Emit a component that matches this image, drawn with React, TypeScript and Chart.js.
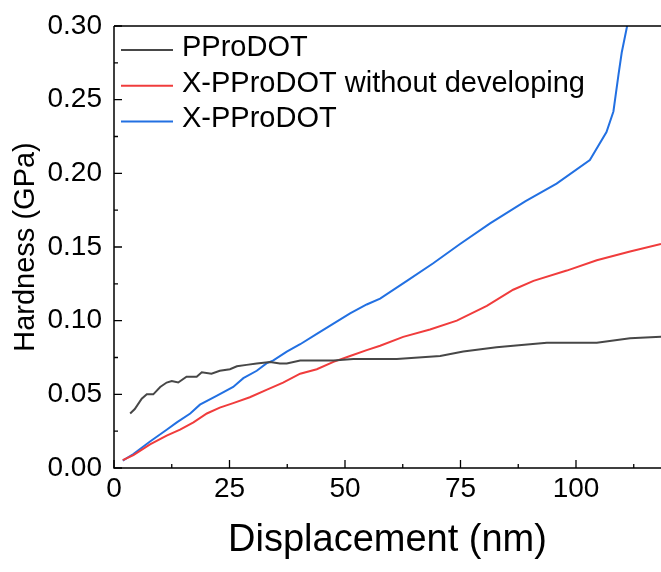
import React, { useEffect, useRef } from "react";
import { Chart, registerables } from "chart.js";

Chart.register(...registerables);

const seriesLabels = ["PProDOT", "X-PProDOT without developing", "X-PProDOT"];
const seriesColors = ["#474747", "#f03c3c", "#2270e2"];

const grayX = [3.5, 4.5, 6.0, 7.1, 8.5, 10.0, 11.4, 12.5, 13.9, 15.7, 17.9, 19.0, 21.1, 22.9, 25.1, 26.6, 28.7, 30.9, 33.8, 35.9, 37.4, 40.3, 43.9, 47.5, 51.8, 57.6, 61.2, 70.6, 75.6, 82.8, 86.4, 93.7, 100.9, 104.5, 111.7, 118.4];
const grayY = [0.037, 0.040, 0.047, 0.050, 0.050, 0.055, 0.058, 0.059, 0.058, 0.062, 0.062, 0.065, 0.064, 0.066, 0.067, 0.069, 0.070, 0.071, 0.072, 0.071, 0.071, 0.073, 0.073, 0.073, 0.074, 0.074, 0.074, 0.076, 0.079, 0.082, 0.083, 0.085, 0.085, 0.085, 0.088, 0.089];

const redX = [1.9, 4.2, 7.8, 11.4, 14.3, 17.2, 20.1, 22.9, 25.8, 29.4, 33.0, 36.6, 40.3, 43.9, 47.5, 51.1, 54.7, 57.6, 62.6, 68.4, 74.2, 80.7, 86.4, 90.8, 98.0, 104.5, 111.7, 118.4];
const redY = [0.0054, 0.0088, 0.016, 0.022, 0.026, 0.031, 0.037, 0.041, 0.044, 0.048, 0.053, 0.058, 0.064, 0.067, 0.072, 0.076, 0.080, 0.083, 0.089, 0.094, 0.100, 0.110, 0.121, 0.127, 0.134, 0.141, 0.147, 0.152];

const blueX = [1.9, 4.2, 7.8, 11.4, 13.6, 16.5, 18.6, 22.2, 25.8, 28.0, 30.9, 33.0, 34.5, 37.4, 40.3, 43.9, 47.5, 51.1, 54.7, 57.6, 63.4, 69.1, 74.9, 81.4, 89.0, 95.8, 103.0, 106.6, 108.1, 109.2, 109.9, 111.0, 111.4];
const blueY = [0.005, 0.0095, 0.018, 0.026, 0.031, 0.037, 0.043, 0.049, 0.055, 0.061, 0.066, 0.071, 0.073, 0.079, 0.084, 0.091, 0.098, 0.105, 0.111, 0.115, 0.127, 0.139, 0.152, 0.166, 0.181, 0.193, 0.209, 0.228, 0.242, 0.267, 0.282, 0.299, 0.31];

const xMajorTicks = [0, 25, 50, 75, 100];
const xMinorTicks = [12.5, 37.5, 62.5, 87.5, 112.5];
const yMajorTicks = [0, 0.05, 0.1, 0.15, 0.2, 0.25, 0.3];
const yMinorTicks = [0.025, 0.075, 0.125, 0.175, 0.225, 0.275];

const FONT = "'Liberation Sans', Arial, sans-serif";

const zip = (xs: number[], ys: number[]) => xs.map((x, i) => ({ x, y: ys[i] }));

const framePlugin = {
  id: "frame",
  afterDatasetsDraw(chart: any) {
    const { ctx, chartArea, scales } = chart;
    const { left, right, top, bottom } = chartArea;
    ctx.save();
    ctx.strokeStyle = "#000";
    ctx.lineWidth = 1.5;
    ctx.beginPath();
    ctx.moveTo(left, top);
    ctx.lineTo(right, top);
    ctx.moveTo(left, top);
    ctx.lineTo(left, bottom);
    ctx.lineTo(right, bottom);
    ctx.stroke();
    ctx.lineWidth = 1.3;
    ctx.beginPath();
    xMajorTicks.forEach((v) => {
      const px = scales.x.getPixelForValue(v);
      ctx.moveTo(px, bottom);
      ctx.lineTo(px, bottom - 8);
    });
    xMinorTicks.forEach((v) => {
      const px = scales.x.getPixelForValue(v);
      ctx.moveTo(px, bottom);
      ctx.lineTo(px, bottom - 4);
    });
    yMajorTicks.forEach((v) => {
      const py = scales.y.getPixelForValue(v);
      ctx.moveTo(left, py);
      ctx.lineTo(left + 8, py);
    });
    yMinorTicks.forEach((v) => {
      const py = scales.y.getPixelForValue(v);
      ctx.moveTo(left, py);
      ctx.lineTo(left + 4, py);
    });
    ctx.stroke();

    // legend
    const lx0 = left + 7;
    const lx1 = left + 59;
    const tx = left + 68;
    ctx.font = `29px ${FONT}`;
    ctx.textBaseline = "middle";
    ctx.textAlign = "left";
    chart.data.datasets.forEach((ds: any, i: number) => {
      const ly = top + 24 + i * 35.7;
      ctx.strokeStyle = ds.borderColor;
      ctx.lineWidth = 2;
      ctx.beginPath();
      ctx.moveTo(lx0, ly);
      ctx.lineTo(lx1, ly);
      ctx.stroke();
      ctx.fillStyle = "#000";
      ctx.fillText(ds.label, tx, ly - 2);
    });
    ctx.restore();
  },
};

export default function App() {
  const ref = useRef<HTMLCanvasElement | null>(null);
  useEffect(() => {
    if (!ref.current) return;
    const datasets = [zip(grayX, grayY), zip(redX, redY), zip(blueX, blueY)].map((d, i) => ({
      label: seriesLabels[i],
      data: d,
      borderColor: seriesColors[i],
      backgroundColor: seriesColors[i],
      borderWidth: 2,
      pointRadius: 0,
      tension: 0,
      fill: false,
    }));
    const chart = new Chart(ref.current, {
      type: "line",
      data: { datasets },
      options: {
        animation: false,
        responsive: false,
        maintainAspectRatio: false,
        layout: { padding: { top: 24, left: 0, right: 0, bottom: 0 } },
        plugins: { legend: { display: false }, tooltip: { enabled: false } },
        scales: {
          x: {
            type: "linear",
            min: 0,
            max: 118.4,
            grid: { display: false, drawTicks: false },
            border: { display: false },
            afterBuildTicks: (s: any) => {
              s.ticks = xMajorTicks.map((v) => ({ value: v }));
            },
            afterFit: (s: any) => {
              s.height = 104;
            },
            ticks: {
              padding: 7,
              color: "#000",
              font: { family: FONT, size: 28, lineHeight: 1 },
              maxRotation: 0,
              autoSkip: false,
            },
            title: {
              display: true,
              text: "Displacement (nm)",
              color: "#000",
              font: { family: FONT, size: 38, lineHeight: 1 },
              padding: { top: 0, bottom: 12 },
            },
          },
          y: {
            type: "linear",
            min: 0,
            max: 0.3,
            grid: { display: false, drawTicks: false },
            border: { display: false },
            afterBuildTicks: (s: any) => {
              s.ticks = yMajorTicks.map((v) => ({ value: v }));
            },
            afterFit: (s: any) => {
              s.width = 114;
            },
            ticks: {
              padding: 12,
              color: "#000",
              font: { family: FONT, size: 28, lineHeight: 1 },
              callback: (v: any) => Number(v).toFixed(2),
              autoSkip: false,
            },
            title: {
              display: true,
              text: "Hardness (GPa)",
              color: "#000",
              font: { family: FONT, size: 29, lineHeight: 1 },
              padding: { top: 11, bottom: 0 },
            },
          },
        },
      },
      plugins: [framePlugin],
    });
    return () => chart.destroy();
  }, []);
  return (
    <div style={{ position: "absolute", left: 0, top: 0, width: 661, height: 572, background: "#fff" }}>
      <canvas ref={ref} width={661} height={572} style={{ width: 661, height: 572, display: "block" }} />
    </div>
  );
}
